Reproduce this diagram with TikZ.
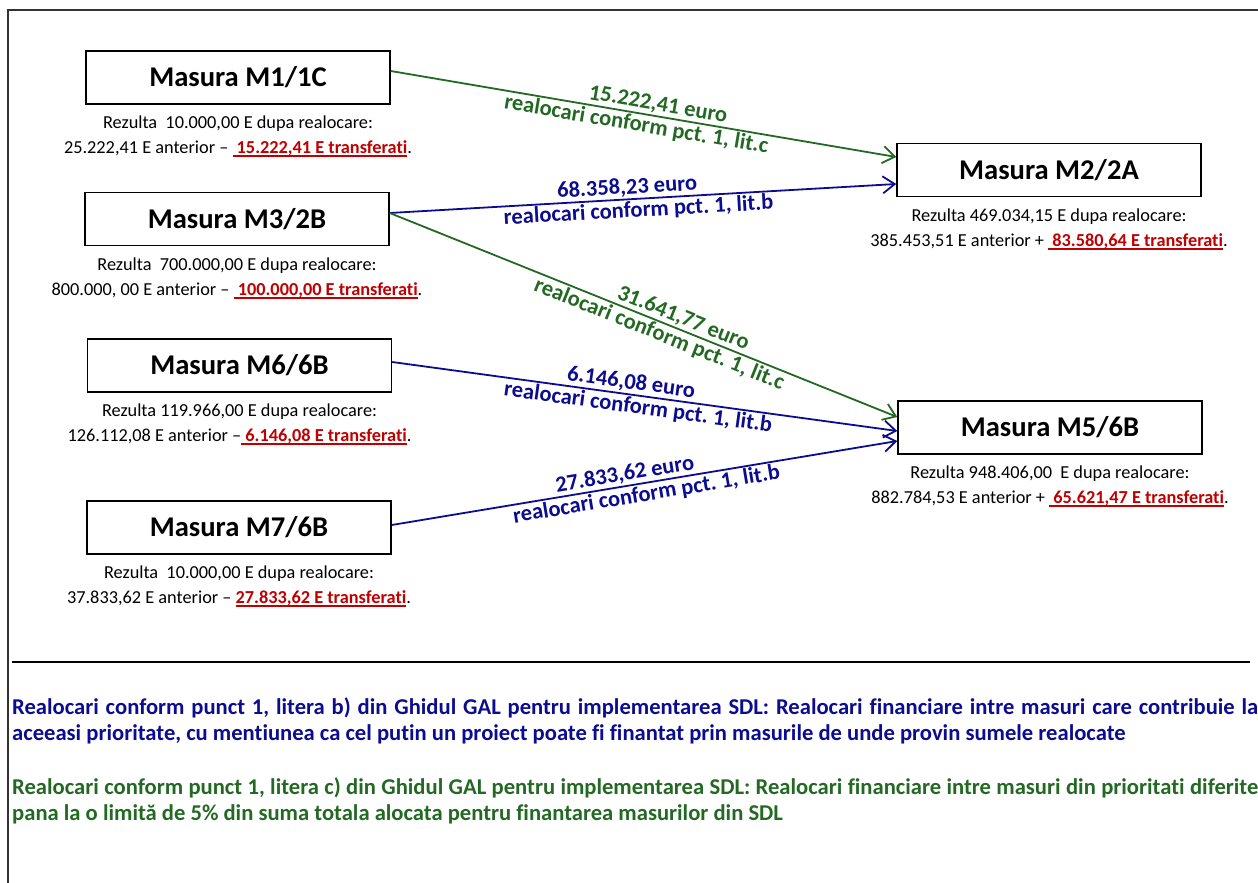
\documentclass[tikz,border=0pt]{standalone}
\usepackage{fontspec}
\setmainfont{Carlito}[Ligatures=NoCommon]
\usetikzlibrary{calc,arrows.meta}
\definecolor{verde}{RGB}{35,105,35}
\definecolor{albastru}{RGB}{12,12,145}
\definecolor{rosu}{RGB}{192,0,0}
\frenchspacing
\newcommand{\transf}[1]{{\bfseries\color{rosu}\setbox0\hbox{#1}\rlap{\rule[-3.5pt]{\wd0}{1.8pt}}\box0}}
\tikzset{>={Straight Barb[length=12pt,width=17pt]},
  masura/.style={draw,line width=1.4pt,minimum width=304pt,minimum height=53pt,inner sep=0pt,
    font=\fontsize{28.6}{30}\selectfont\bfseries},
  info/.style={align=center,inner sep=0pt,anchor=base,font=\fontsize{18.3}{25}\selectfont},
  sageata/.style={->,line width=1.8pt},
  suma/.style={sloped,inner sep=1.5pt,font=\fontsize{22.5}{24}\selectfont\bfseries},
  nota/.style={text width=1246pt,align=justify,anchor=base west,inner sep=0pt,
    font=\fontsize{22.6}{26.5}\selectfont\bfseries}}

\begin{document}
\begin{tikzpicture}[x=1pt,y=-1pt]
\useasboundingbox (0,0) rectangle (1258,883);
\draw[line width=1.4pt,black!80] (8,883) -- (8,10) -- (1258,10);
% masurile din stanga
\node[masura] (m1) at (238,77.5) {Masura M1/1C};
\node[masura] (m3) at (237,219) {Masura M3/2B};
\node[masura] (m6) at (239.5,365.5) {Masura M6/6B};
\node[masura] (m7) at (239,527.5) {Masura M7/6B};
% masurile din dreapta
\node[masura] (m2) at (1049,170) {Masura M2/2A};
\node[masura] (m5) at (1050,427.5) {Masura M5/6B};
% sumele (base = ultimul rand)
\node[info] (i1) at ($(m1.south)+(0,48.7)$) {Rezulta\ \ 10.000,00 E dupa realocare:\\
  25.222,41 E anterior -- \transf{\ 15.222,41 E transferati}.};
\node[info] (i3) at ($(m3.south)+(0,49)$) {Rezulta\ \ 700.000,00 E dupa realocare:\\
  800.000, 00 E anterior -- \transf{\ 100.000,00 E transferati}.};
\node[info] (i6) at ($(m6.south)+(0,49)$) {Rezulta 119.966,00 E dupa realocare:\\
  126.112,08 E anterior --\transf{\ 6.146,08 E transferati}.};
\node[info] (i7) at ($(m7.south)+(0,49)$) {Rezulta\ \ 10.000,00 E dupa realocare:\\
  37.833,62 E anterior -- \transf{27.833,62 E transferati}.};
\node[info] (i2) at ($(m2.south)+(0,49)$) {Rezulta 469.034,15 E dupa realocare:\\
  385.453,51 E anterior + \transf{\ 83.580,64 E transferati}.};
\node[info] (i5) at ($(m5.south)+(0,49)$) {Rezulta 948.406,00\ \ E dupa realocare:\\
  882.784,53 E anterior + \transf{\ 65.621,47 E transferati}.};
% realocari
\draw[sageata,verde] ($(m1.east)+(0,-6.5)$) -- node[suma,above,pos=0.525] {15.222,41 euro}
  node[suma,below,pos=0.49] {realocari conform pct. 1, lit.c} ($(m2.west)+(0,-13)$);
\draw[sageata,albastru] ($(m3.east)+(0,-6)$) -- node[suma,above,pos=0.47] {68.358,23 euro}
  node[suma,below,pos=0.49] {realocari conform pct. 1, lit.b} ($(m2.west)+(0,14)$);
\draw[sageata,verde] ($(m3.east)+(0,-6)$) -- node[suma,above,pos=0.57] {31.641,77 euro}
  node[suma,below,pos=0.54] {realocari conform pct. 1, lit.c} ($(m5.west)+(0,-10.5)$);
\draw[sageata,albastru] ($(m6.east)+(0,-3.5)$) -- node[suma,above,pos=0.47] {6.146,08 euro}
  node[suma,below,pos=0.49] {realocari conform pct. 1, lit.b} ($(m5.west)+(0,3.5)$);
\draw[sageata,albastru] ($(m7.east)+(0,-2.5)$) -- node[suma,above,pos=0.465] {27.833,62 euro}
  node[suma,below,pos=0.5] {realocari conform pct. 1, lit.b} ($(m5.west)+(0,13.5)$);
% legenda
\draw[line width=2.6pt] (12,662) -- (1250,662);
\node[nota,text=albastru] (lb) at (12,714) {Realocari conform punct 1, litera b) din Ghidul GAL pentru implementarea SDL: Realocari financiare intre masuri care contribuie la\linebreak
  aceeasi prioritate, cu mentiunea ca cel putin un proiect poate fi finantat prin masurile de unde provin sumele realocate};
\node[nota,text=verde] (lc) at (12,794) {Realocari conform punct 1, litera c) din Ghidul GAL pentru implementarea SDL: Realocari financiare intre masuri din prioritati diferite\linebreak
  pana la o limită de 5\% din suma totala alocata pentru finantarea masurilor din SDL};
\end{tikzpicture}
\end{document}
